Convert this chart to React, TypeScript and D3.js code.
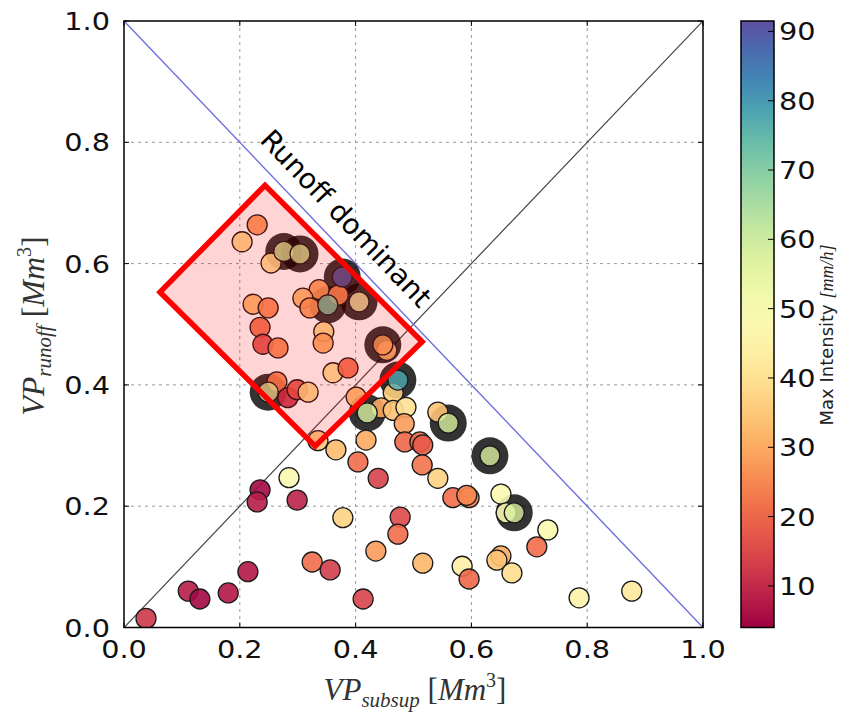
import React from 'react';
import * as d3 from 'd3';

// VP_subsup (x), VP_runoff (y), max intensity (colour), highlighted events (dark halo)
const subsup = [0.230,0.204,0.276,0.304,0.254,0.377,0.337,0.370,0.309,0.321,0.352,0.406,0.223,0.249,0.235,0.240,0.266,0.345,0.344,0.447,0.454,0.361,0.387,0.249,0.264,0.283,0.299,0.318,0.473,0.465,0.401,0.420,0.444,0.465,0.487,0.484,0.485,0.511,0.516,0.542,0.560,0.418,0.366,0.335,0.404,0.439,0.515,0.542,0.632,0.568,0.596,0.592,0.651,0.660,0.674,0.732,0.713,0.477,0.473,0.435,0.516,0.584,0.596,0.651,0.644,0.670,0.786,0.877,0.285,0.235,0.230,0.299,0.378,0.325,0.356,0.413,0.214,0.180,0.111,0.131,0.038];
const runoff = [0.664,0.636,0.620,0.616,0.601,0.578,0.557,0.548,0.543,0.527,0.532,0.537,0.533,0.527,0.495,0.467,0.461,0.488,0.469,0.466,0.457,0.420,0.428,0.388,0.405,0.379,0.392,0.388,0.408,0.387,0.380,0.354,0.362,0.358,0.363,0.336,0.306,0.306,0.301,0.355,0.337,0.309,0.293,0.308,0.273,0.246,0.268,0.246,0.283,0.214,0.214,0.218,0.220,0.189,0.189,0.161,0.133,0.182,0.154,0.126,0.106,0.101,0.080,0.118,0.111,0.090,0.049,0.060,0.247,0.227,0.207,0.210,0.181,0.108,0.095,0.047,0.092,0.057,0.060,0.047,0.015];
const maxIntensity = [27,38,58,58,40,90,28,26,32,28,70,45,32,25,21,16,25,38,30,30,33,40,21,58,25,11,17,38,78,36,33,58,30,34,40,28,20,20,18,34,58,30,33,35,21,14,22,37,58,21,24,25,48,48,58,48,21,15,21,28,32,44,20,30,34,39,45,42,48,5,8,9,37,21,13,14,7,7,8,5,12];
const highlighted = [0,0,1,1,0,1,0,0,0,0,1,1,0,0,0,0,0,0,0,1,0,0,0,1,0,0,0,0,1,0,0,1,0,0,0,0,0,0,0,0,1,0,0,0,0,0,0,0,1,0,0,0,0,0,1,0,0,0,0,0,0,0,0,0,0,0,0,0,0,0,0,0,0,0,0,0,0,0,0,0,0];

const axisTicks = [0, 0.2, 0.4, 0.6, 0.8, 1.0];
const colorTicks = [10, 20, 30, 40, 50, 60, 70, 80, 90];
const colorDomain = [4, 91.5];
// annotated region (data coordinates)
const regionX = [0.0622, 0.2435, 0.515, 0.330];
const regionY = [0.553, 0.729, 0.471, 0.299];

const W = 849, H = 719;
const X0 = 124, X1 = 703, Y0 = 627.5, Y1 = 21;
const CB_X = 741, CB_W = 33;
const SX = 1.15;

function Label({ x, y, anchor = 'start', children, size = 25, dy = 0 }: any) {
  return (
    <text transform={`translate(${x},${y}) scale(${SX},1)`} dy={dy} textAnchor={anchor}
      fontFamily="DejaVu Sans, sans-serif" fontSize={size} fill="#111">{children}</text>
  );
}

function MathLabel({ sub }: { sub: string }) {
  return (
    <>
      <tspan fontStyle="italic">VP</tspan>
      <tspan fontStyle="italic" fontSize={21} dy={7}>{sub}</tspan>
      <tspan dy={-7}> [</tspan>
      <tspan fontStyle="italic">Mm</tspan>
      <tspan fontSize={20} dy={-13}>3</tspan>
      <tspan dy={13}>]</tspan>
    </>
  );
}

export default function App() {
  const x = d3.scaleLinear().domain([0, 1]).range([X0, X1]);
  const y = d3.scaleLinear().domain([0, 1]).range([Y0, Y1]);
  const c = d3.scaleSequential(d3.interpolateSpectral).domain(colorDomain as [number, number]);
  const cy = d3.scaleLinear().domain(colorDomain).range([Y0, Y1]);

  const pts = subsup.map((v, i) => ({ x: v, y: runoff[i], v: maxIntensity[i], h: highlighted[i] }));
  const normal = pts.filter(p => !p.h);
  const hl = pts.filter(p => p.h);
  const region = regionX.map((v, i) => [x(v), y(regionY[i])]);
  const stops = d3.range(0, 1.0001, 0.05);

  return (
    <svg width={W} height={H} style={{ position: 'absolute', left: 0, top: 0, background: '#fff' }}>
      <defs>
        <linearGradient id="cbar" x1="0" y1="1" x2="0" y2="0">
          {stops.map((t, i) => (
            <stop key={i} offset={t} stopColor={d3.interpolateSpectral(t)} />
          ))}
        </linearGradient>
        <clipPath id="plotclip">
          <rect x={X0} y={Y1} width={X1 - X0} height={Y0 - Y1} />
        </clipPath>
      </defs>
      <rect x={X0} y={Y1} width={X1 - X0} height={Y0 - Y1} fill="#fff" />
      {/* grid */}
      {axisTicks.slice(1, -1).map(t => (
        <g key={'g' + t}>
          <line x1={x(t)} x2={x(t)} y1={Y1} y2={Y0} stroke="#9a9a9a" strokeWidth={1} strokeDasharray="3,4" />
          <line x1={X0} x2={X1} y1={y(t)} y2={y(t)} stroke="#9a9a9a" strokeWidth={1} strokeDasharray="3,4" />
        </g>
      ))}
      <g clipPath="url(#plotclip)">
        <line x1={x(0)} y1={y(0)} x2={x(1)} y2={y(1)} stroke="#444" strokeWidth={1.2} />
        <line x1={x(0)} y1={y(1)} x2={x(1)} y2={y(0)} stroke="#6f6fdc" strokeWidth={1.4} />
        {hl.map((p, i) => (
          <circle key={'h' + i} cx={x(p.x)} cy={y(p.y)} r={18.5} fill="#000" fillOpacity={0.8} />
        ))}
        {normal.map((p, i) => (
          <circle key={'n' + i} cx={x(p.x)} cy={y(p.y)} r={10} fill={c(p.v)} fillOpacity={0.9} stroke="#1a1a1a" strokeWidth={1.3} />
        ))}
        {hl.map((p, i) => (
          <circle key={'p' + i} cx={x(p.x)} cy={y(p.y)} r={10} fill={c(p.v)} fillOpacity={0.8} stroke="#1a1a1a" strokeWidth={1.3} />
        ))}
        <polygon points={region.map(p => p.join(',')).join(' ')} fill="#ff0000" fillOpacity={0.17} stroke="#ff0000" strokeWidth={5.5} strokeLinejoin="miter" />
      </g>
      <text transform={`translate(339,225) rotate(46.3)`} textAnchor="middle" fontFamily="DejaVu Sans, sans-serif" fontSize={28} fill="#000">Runoff dominant</text>
      {/* ticks */}
      {axisTicks.map(t => (
        <g key={'t' + t}>
          <line x1={x(t)} x2={x(t)} y1={Y0} y2={Y0 - 5} stroke="#000" />
          <line x1={x(t)} x2={x(t)} y1={Y1} y2={Y1 + 5} stroke="#000" />
          <line x1={X0} x2={X0 + 5} y1={y(t)} y2={y(t)} stroke="#000" />
          <line x1={X1} x2={X1 - 5} y1={y(t)} y2={y(t)} stroke="#000" />
          <Label x={x(t)} y={658} anchor="middle">{t.toFixed(1)}</Label>
          <Label x={110} y={y(t)} dy="0.36em" anchor="end">{t.toFixed(1)}</Label>
        </g>
      ))}
      <rect x={X0} y={Y1} width={X1 - X0} height={Y0 - Y1} fill="none" stroke="#000" strokeWidth={1.5} />
      {/* axis labels */}
      <text x={415} y={700} textAnchor="middle" fontFamily="Liberation Serif, serif" fontSize={31} fill="#333">
        <MathLabel sub="subsup" />
      </text>
      <text transform="translate(44,326) rotate(-90)" textAnchor="middle" fontFamily="Liberation Serif, serif" fontSize={32} fill="#333">
        <MathLabel sub="runoff" />
      </text>
      {/* colorbar */}
      <rect x={CB_X} y={Y1} width={CB_W} height={Y0 - Y1} fill="url(#cbar)" stroke="#000" strokeWidth={1.5} />
      {colorTicks.map(t => (
        <g key={'c' + t}>
          <line x1={CB_X + CB_W} x2={CB_X + CB_W - 6} y1={cy(t)} y2={cy(t)} stroke="#000" />
          <Label x={CB_X + CB_W + 5} y={cy(t)} dy="0.36em">{t}</Label>
        </g>
      ))}
      <text transform="translate(833,335) rotate(-90)" textAnchor="middle" fontFamily="DejaVu Sans, sans-serif" fontSize={18} fill="#222">
        Max Intensity <tspan fontFamily="Liberation Serif, serif" fontStyle="italic">[mm/h]</tspan>
      </text>
    </svg>
  );
}
